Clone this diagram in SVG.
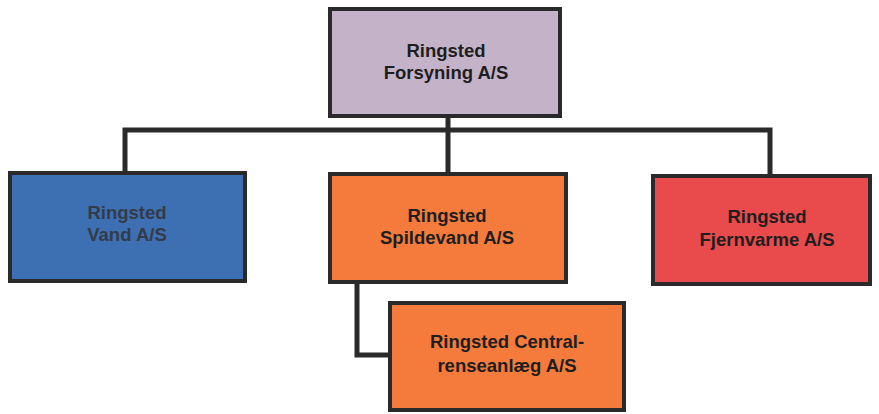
<svg xmlns="http://www.w3.org/2000/svg" width="879" height="414" viewBox="0 0 879 414">
<style>
.box{stroke:#2a2a2a;stroke-width:4}
.t{font-family:"Liberation Sans",Arial,sans-serif;font-weight:bold;font-size:18.5px;text-anchor:middle;fill:#1e1e1e}
.c{fill:none;stroke:#2a2a2a;stroke-width:5}
</style>
<rect width="879" height="414" fill="#ffffff"/>
<g id="connectors">
<path class="c" d="M448 117 V130"/>
<path class="c" d="M125 172 V130 H770 V175"/>
<path class="c" d="M448 130 V173"/>
<path class="c" d="M357 283 V355 H388"/>
</g>
<g id="forsyning">
<rect class="box" x="330" y="9" width="230" height="107" fill="#c4b3c8"/>
<text class="t" x="446" y="57">Ringsted</text>
<text class="t" x="446" y="79">Forsyning A/S</text>
</g>
<g id="vand">
<rect class="box" x="10" y="173" width="235" height="108" fill="#3d70b2"/>
<text class="t" x="127" y="219" fill="#3a3a3a" style="fill:#333b48">Ringsted</text>
<text class="t" x="127" y="241" style="fill:#333b48">Vand A/S</text>
</g>
<g id="spildevand">
<rect class="box" x="330" y="174" width="236" height="108" fill="#f47b3c"/>
<text class="t" x="447" y="222">Ringsted</text>
<text class="t" x="447" y="244">Spildevand A/S</text>
</g>
<g id="fjernvarme">
<rect class="box" x="653" y="176" width="217" height="108" fill="#e94a4c"/>
<text class="t" x="767" y="223">Ringsted</text>
<text class="t" x="767" y="246">Fjernvarme A/S</text>
</g>
<g id="central">
<rect class="box" x="390" y="303" width="234" height="107" fill="#f47b3c"/>
<text class="t" x="507" y="348">Ringsted Central-</text>
<text class="t" x="507" y="372">renseanlæg A/S</text>
</g>
</svg>
